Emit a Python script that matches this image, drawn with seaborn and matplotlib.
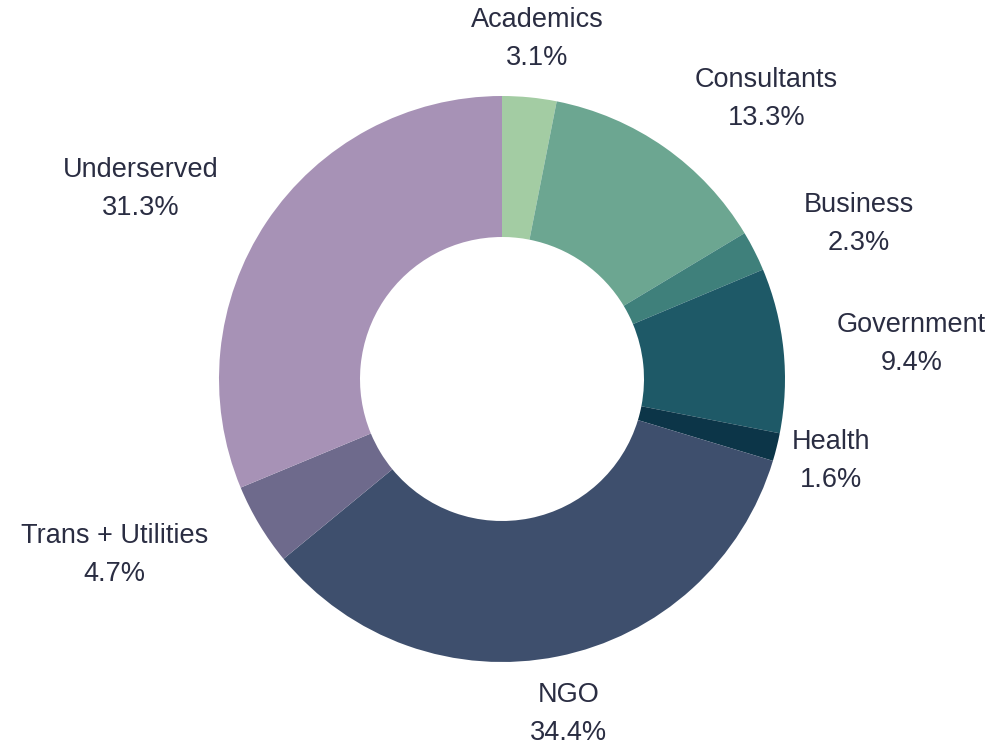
import numpy as np
import matplotlib
matplotlib.use("Agg")
import matplotlib.pyplot as plt
import seaborn as sns

categories = ["Academics", "Consultants", "Business", "Government", "Health",
              "NGO", "Trans + Utilities", "Underserved"]
values = [3.1, 13.3, 2.3, 9.4, 1.6, 34.4, 4.7, 31.3]
colors = ["#a3cca3", "#6ca691", "#3f807b", "#1e5967", "#0c3548",
          "#3e4f6d", "#6e6a8c", "#a792b6"]

# extra horizontal push (px) for labels, layout only
label_push = {"Consultants": 51, "Business": 40, "Government": 37,
              "Trans + Utilities": -50, "Underserved": -47}

sns.set_theme(style="white")
plt.rcParams['font.family'] = ['Liberation Sans', 'DejaVu Sans']

W, H = 1002, 746
fig = plt.figure(figsize=(W / 100, H / 100), dpi=100)
ax = fig.add_axes([0, 0, 1, 1])
ax.set_xlim(0, W)
ax.set_ylim(0, H)
ax.set_aspect('equal')
ax.axis('off')

cx, cy = 502, H - 379
R, r_in = 283, 142
wedges, _ = ax.pie(values, colors=colors, startangle=90, counterclock=False,
                   radius=R, center=(cx, cy),
                   wedgeprops=dict(width=R - r_in, linewidth=0))
ax.set_xlim(0, W)
ax.set_ylim(0, H)

fig.canvas.draw()
renderer = fig.canvas.get_renderer()
total = sum(values)
cum = 0
for cat, v in zip(categories, values):
    mid = np.deg2rad(90 - (cum + v / 2) / total * 360)
    cum += v
    t = ax.text(0, 0, f"{cat}\n{v:.1f}%", ha='center', va='center',
                multialignment='center', fontsize=19.5, color='#2a2d42',
                linespacing=1.6)
    bb = t.get_window_extent(renderer)
    w, h = bb.width, bb.height
    x = cx + 300 * np.cos(mid) + w / 2 * np.cos(mid) + label_push.get(cat, 0)
    y = cy + 310 * np.sin(mid) + h / 2 * np.sin(mid)
    t.set_position((x, y))

fig.savefig("out.png", dpi=100, facecolor='white')
